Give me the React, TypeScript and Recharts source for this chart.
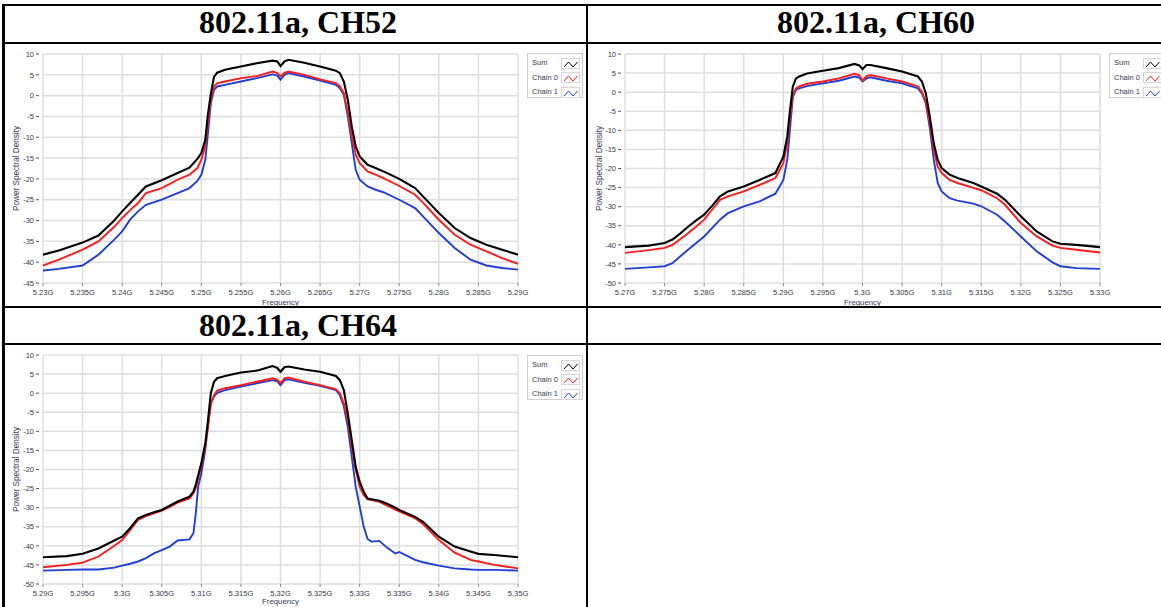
import React from 'react';
import { LineChart, Line, XAxis, YAxis, CartesianGrid } from 'recharts';

// ---------- CH52 ----------
const ch52Freq = [5230, 5232, 5235, 5237, 5239, 5240, 5241, 5242, 5243, 5245, 5247, 5248.5, 5249.5, 5250, 5250.5, 5250.8, 5251.2, 5251.6, 5252, 5253, 5255, 5257, 5259, 5259.6, 5260, 5260.5, 5261, 5263, 5265, 5267, 5267.5, 5268, 5268.5, 5269, 5269.5, 5270, 5271, 5272, 5273, 5275, 5277, 5278, 5280, 5282, 5284, 5286, 5288, 5290];
const ch52Sum = [-38.2, -37.2, -35.3, -33.6, -30, -27.8, -25.8, -23.8, -21.8, -20.3, -18.6, -17.3, -15.2, -13.8, -10.6, -5, 0.5, 4.5, 5.5, 6.2, 7, 7.8, 8.4, 8.2, 7.1, 8.2, 8.6, 7.9, 7, 6, 5.4, 3.4, -1, -7.4, -12.2, -14.6, -16.6, -17.4, -18.2, -20, -22.2, -24.2, -28.2, -31.8, -34.2, -35.8, -37, -38.2];
const ch52Chain0 = [-40.8, -39.4, -37, -35, -31.5, -29.4, -27.5, -25.8, -23.4, -22.2, -20.2, -19, -17.4, -15.4, -12.2, -7.4, -1, 2.2, 3, 3.4, 4.2, 4.7, 5.8, 5.4, 4.6, 5.5, 5.8, 5, 3.9, 3, 2.2, 0.6, -4.2, -9.8, -14.2, -16.2, -18.2, -19, -19.8, -21.7, -23.8, -25.7, -29.8, -33.4, -35.8, -37.4, -39, -40.4];
const ch52Chain1 = [-42, -41.6, -40.8, -38.2, -34.6, -32.6, -29.8, -27.8, -26.2, -25, -23.4, -22.2, -20.5, -19, -15.4, -9.8, -1.8, 1.4, 2.2, 2.6, 3.4, 4.2, 5.1, 4.8, 3.8, 5, 5.4, 4.6, 3.6, 2.6, 1.8, 0.2, -5, -11.4, -17.8, -20.2, -21.8, -22.6, -23.2, -25, -27, -29, -33, -36.6, -39.4, -40.8, -41.4, -41.8];
const ch52XTicks = [5230, 5235, 5240, 5245, 5250, 5255, 5260, 5265, 5270, 5275, 5280, 5285, 5290];
const ch52YTicks = [10, 5, 0, -5, -10, -15, -20, -25, -30, -35, -40, -45];

// ---------- CH60 ----------
const ch60Freq = [5270, 5273, 5275, 5276, 5277, 5278, 5279, 5280, 5281, 5282, 5283, 5285, 5287, 5289, 5290, 5290.5, 5290.8, 5291.2, 5291.6, 5292, 5293, 5295, 5297, 5299, 5299.6, 5300, 5300.5, 5301, 5303, 5305, 5307, 5307.5, 5308, 5308.5, 5309, 5309.5, 5310, 5311, 5312, 5314, 5315, 5317, 5318, 5320, 5322, 5324, 5325, 5327, 5330];
const ch60Sum = [-40.6, -40.2, -39.5, -38.6, -37, -35.2, -33.6, -32.1, -29.8, -27.3, -26, -24.7, -23, -21.2, -16.9, -11.6, -5.5, 1.5, 3.6, 4.1, 4.9, 5.6, 6.3, 7.4, 7, 6, 7.1, 7.1, 6.3, 5.4, 4.1, 2.8, -0.3, -6.4, -13.4, -17.7, -19.9, -21.6, -22.5, -23.8, -24.7, -26.6, -28.2, -32.5, -36.5, -39.1, -39.7, -40, -40.6];
const ch60Chain0 = [-42.1, -41.4, -40.8, -40, -38.5, -36.9, -35.2, -33.4, -30.8, -28.2, -27.3, -26, -24.3, -22.5, -18.6, -13.4, -7.3, -0.7, 1, 1.5, 2.2, 2.8, 3.6, 4.8, 4.4, 3, 4.2, 4.5, 3.6, 2.8, 1.5, 0.1, -2.5, -8.1, -15.1, -19.5, -21.2, -23, -23.8, -25.1, -25.7, -27.8, -29.5, -34.3, -37.8, -40.2, -40.8, -41.3, -42];
const ch60Chain1 = [-46.3, -45.9, -45.6, -44.8, -43, -41.2, -39.5, -37.8, -35.6, -33.4, -31.7, -29.9, -28.6, -26.6, -23, -17.7, -10.7, -1.2, 0.6, 1, 1.6, 2.3, 3, 4.1, 3.8, 2.8, 3.6, 3.9, 3, 2.3, 1, -0.3, -2.9, -9.4, -17.7, -23.8, -26, -27.8, -28.4, -29.2, -29.9, -32.1, -33.9, -37.8, -41.7, -44.6, -45.6, -46.1, -46.3];
const ch60XTicks = [5270, 5275, 5280, 5285, 5290, 5295, 5300, 5305, 5310, 5315, 5320, 5325, 5330];
const ch60YTicks = [10, 5, 0, -5, -10, -15, -20, -25, -30, -35, -40, -45, -50];

// ---------- CH64 ----------
const ch64Freq = [5290, 5293, 5295, 5297, 5299, 5300, 5301, 5302, 5303, 5304, 5305, 5306, 5307, 5308.5, 5309, 5309.3, 5309.6, 5310, 5310.5, 5310.8, 5311.2, 5311.6, 5312, 5313, 5315, 5317, 5319, 5319.6, 5320, 5320.5, 5321, 5323, 5325, 5327, 5327.5, 5328, 5328.5, 5329, 5329.5, 5330, 5330.5, 5331, 5331.5, 5332.5, 5333.4, 5334.5, 5335, 5337, 5338, 5340, 5342, 5344, 5345, 5347, 5350];
const ch64Sum = [-43, -42.7, -42.1, -40.7, -38.6, -37.6, -35.4, -32.8, -31.9, -31.2, -30.6, -29.5, -28.4, -27.1, -25.8, -24, -21.5, -18.4, -13.1, -7.9, 0, 3, 3.9, 4.5, 5.4, 5.9, 7.1, 6.6, 5.6, 6.8, 7, 6.2, 5.6, 4.5, 3.4, 0.8, -5.3, -12.3, -19.3, -23.2, -25.8, -27.6, -27.8, -28.2, -28.9, -30, -30.6, -32.4, -33.7, -37.6, -40.2, -41.5, -42.1, -42.4, -43];
const ch64Chain0 = [-45.6, -45, -44.4, -42.8, -40, -38.5, -35.9, -33.2, -32.2, -31.5, -30.8, -29.8, -28.7, -27.6, -26.2, -24.8, -22.3, -19.3, -14, -9.7, -2.7, -0.5, 0.7, 1.3, 2.1, 3, 3.9, 3.5, 2.6, 3.9, 4.1, 3, 2.1, 1, 0, -2.7, -7, -14, -20.1, -24.5, -26.7, -27.8, -28, -28.5, -29.4, -30.5, -31, -32.8, -34.3, -38.5, -41.8, -43.7, -44.1, -45, -45.9];
const ch64Chain1 = [-46.5, -46.3, -46.2, -46.2, -45.7, -45.2, -44.7, -44.1, -43.2, -42, -41.1, -40.2, -38.6, -38.3, -36.7, -31.5, -24.5, -21, -14.9, -8.8, -2.7, -0.9, 0.1, 0.8, 1.7, 2.6, 3.4, 3.1, 2.1, 3.4, 3.6, 2.7, 1.9, 0.8, -0.5, -3.5, -8.8, -16.6, -24.5, -29.7, -34.9, -38.2, -38.9, -38.7, -40.4, -42, -41.6, -43.7, -44.3, -45.2, -45.9, -46.2, -46.3, -46.3, -46.5];
const ch64XTicks = [5290, 5295, 5300, 5305, 5310, 5315, 5320, 5325, 5330, 5335, 5340, 5345, 5350];
const ch64YTicks = [10, 5, 0, -5, -10, -15, -20, -25, -30, -35, -40, -45, -50];

const seriesNames = ['Sum', 'Chain 0', 'Chain 1'];
const seriesColors = ['#000000', '#ff1a1a', '#1f3fd8'];
const titles = ['802.11a, CH52', '802.11a, CH60', '802.11a, CH64'];

const SANS = '"Liberation Sans", Arial, sans-serif';
const SERIF = '"Liberation Serif", "Times New Roman", serif';

const fmtG = (v: number) => `${parseFloat((v / 1000).toFixed(3))}G`;

function buildRows(freq: number[], sum: number[], c0: number[], c1: number[]) {
  return freq.map((f, i) => ({ f, sum: sum[i], c0: c0[i], c1: c1[i] }));
}

const XTick = (props: any) => {
  const { x, y, payload } = props;
  return (
    <g>
      <line x1={x} y1={y} x2={x} y2={y + 3} stroke="#8a8a8a" strokeWidth={1} />
      <text x={x} y={y + 12} textAnchor="middle" fontSize={7.5} fill="#3a3a4a" fontFamily={SANS}>
        {fmtG(payload.value)}
      </text>
    </g>
  );
};

const YTick = (props: any) => {
  const { x, y, payload } = props;
  return (
    <g>
      <line x1={x - 7} y1={y} x2={x - 4} y2={y} stroke="#555" strokeWidth={1} />
      <text x={x - 9} y={y + 2.7} textAnchor="end" fontSize={7.5} fill="#3a3a4a" fontFamily={SANS}>
        {payload.value}
      </text>
    </g>
  );
};

type PanelProps = {
  left: number;
  top: number;
  width: number;
  height: number;
  yAxisWidth: number;
  marginRight: number;
  xAxisHeight: number;
  xLabelOffset: number;
  freq: number[];
  sum: number[];
  c0: number[];
  c1: number[];
  xTicks: number[];
  yTicks: number[];
};

function Panel(p: PanelProps) {
  const rows = buildRows(p.freq, p.sum, p.c0, p.c1);
  const yMin = p.yTicks[p.yTicks.length - 1];
  const yMax = p.yTicks[0];
  return (
    <div style={{ position: 'absolute', left: p.left, top: p.top }}>
      <LineChart
        width={p.width}
        height={p.height}
        data={rows}
        margin={{ top: 9, right: p.marginRight, bottom: 0, left: 0 }}
      >
        <CartesianGrid stroke="#dedede" strokeWidth={1.5} />
        <XAxis
          dataKey="f"
          type="number"
          domain={[p.xTicks[0], p.xTicks[p.xTicks.length - 1]]}
          ticks={p.xTicks}
          interval={0}
          height={p.xAxisHeight}
          axisLine={false}
          tickLine={false}
          tickSize={0}
          tickMargin={0}
          tick={<XTick />}
          allowDataOverflow
          label={{
            content: (lp: any) => {
              const vb = lp.viewBox;
              return (
                <text
                  x={vb.x + vb.width / 2}
                  y={vb.y + p.xLabelOffset}
                  textAnchor="middle"
                  fontSize={7.8}
                  fill="#3a3a55"
                  fontFamily={SANS}
                >
                  Frequency
                </text>
              );
            },
          }}
        />
        <YAxis
          type="number"
          domain={[yMin, yMax]}
          ticks={p.yTicks}
          interval={0}
          width={p.yAxisWidth}
          axisLine={false}
          tickLine={false}
          tickSize={0}
          tickMargin={0}
          tick={<YTick />}
          allowDataOverflow
          label={{
            content: (lp: any) => {
              const vb = lp.viewBox;
              const cx = vb.x + 11;
              const cy = vb.y + vb.height / 2;
              return (
                <text
                  x={cx}
                  y={cy}
                  transform={`rotate(-90, ${cx}, ${cy})`}
                  textAnchor="middle"
                  dominantBaseline="central"
                  fontSize={8.2}
                  fill="#3a3a60"
                  fontFamily={SANS}
                >
                  Power Spectral Density
                </text>
              );
            },
          }}
        />
        <Line type="linear" dataKey="c1" name={seriesNames[2]} stroke={seriesColors[2]} strokeWidth={1.9} dot={false} isAnimationActive={false} />
        <Line type="linear" dataKey="c0" name={seriesNames[1]} stroke={seriesColors[1]} strokeWidth={1.9} dot={false} isAnimationActive={false} />
        <Line type="linear" dataKey="sum" name={seriesNames[0]} stroke={seriesColors[0]} strokeWidth={2.1} dot={false} isAnimationActive={false} />
      </LineChart>
    </div>
  );
}

function LegendBox({ left, top }: { left: number; top: number }) {
  return (
    <div
      style={{
        position: 'absolute',
        left,
        top,
        width: 56,
        height: 45,
        border: '1px solid #cfcfcf',
        background: '#fff',
        boxSizing: 'border-box',
      }}
    >
      {seriesNames.map((name, i) => (
        <div key={name} style={{ position: 'absolute', left: 0, top: 3 + i * 14.5, width: 56, height: 12 }}>
          <span
            style={{
              position: 'absolute',
              left: 4,
              top: 0,
              fontSize: 7.5,
              lineHeight: '12px',
              color: '#3a3a4a',
              fontFamily: SANS,
              whiteSpace: 'nowrap',
            }}
          >
            {name}
          </span>
          <svg
            width={19}
            height={11}
            style={{ position: 'absolute', left: 33, top: 0.5, border: '1px solid #d6d6d6', boxSizing: 'border-box', background: '#fff' }}
          >
            <polyline points="2,8 6.5,3 11,8 15.5,3" fill="none" stroke={seriesColors[i]} strokeWidth={1} />
          </svg>
        </div>
      ))}
    </div>
  );
}

const HLine = ({ top, left = 2, width = 1161 }: { top: number; left?: number; width?: number }) => (
  <div style={{ position: 'absolute', left, top, width, height: 2, background: '#000' }} />
);
const VLine = ({ left, top = 4, height = 603 }: { left: number; top?: number; height?: number }) => (
  <div style={{ position: 'absolute', left, top, width: 2.5, height, background: '#000' }} />
);

const Title = ({ text, cx, baseline }: { text: string; cx: number; baseline: number }) => (
  <div
    style={{
      position: 'absolute',
      left: cx - 200,
      top: baseline - 29,
      width: 400,
      textAlign: 'center',
      fontFamily: SERIF,
      fontWeight: 'bold',
      fontSize: 32,
      lineHeight: '36px',
      color: '#000',
      whiteSpace: 'nowrap',
    }}
  >
    {text}
  </div>
);

export default function App() {
  return (
    <div
      style={{
        position: 'absolute',
        left: 0,
        top: 0,
        width: 1161,
        height: 607,
        overflow: 'hidden',
        background: '#fff',
      }}
    >
      <Panel
        left={5}
        top={45}
        width={581}
        height={262}
        yAxisWidth={38}
        marginRight={68}
        xAxisHeight={24}
        xLabelOffset={22}
        freq={ch52Freq}
        sum={ch52Sum}
        c0={ch52Chain0}
        c1={ch52Chain1}
        xTicks={ch52XTicks}
        yTicks={ch52YTicks}
      />
      <LegendBox left={527} top={53} />

      <Panel
        left={588}
        top={45}
        width={573}
        height={262}
        yAxisWidth={37}
        marginRight={61}
        xAxisHeight={24}
        xLabelOffset={22}
        freq={ch60Freq}
        sum={ch60Sum}
        c0={ch60Chain0}
        c1={ch60Chain1}
        xTicks={ch60XTicks}
        yTicks={ch60YTicks}
      />
      <LegendBox left={1109} top={53} />

      <Panel
        left={5}
        top={346}
        width={581}
        height={261}
        yAxisWidth={38}
        marginRight={68}
        xAxisHeight={23}
        xLabelOffset={19.5}
        freq={ch64Freq}
        sum={ch64Sum}
        c0={ch64Chain0}
        c1={ch64Chain1}
        xTicks={ch64XTicks}
        yTicks={ch64YTicks}
      />
      <LegendBox left={527} top={355} />

      <Title text={titles[0]} cx={298} baseline={33} />
      <Title text={titles[1]} cx={876} baseline={33} />
      <Title text={titles[2]} cx={298} baseline={336} />

      <HLine top={4} />
      <HLine top={42} />
      <HLine top={306} />
      <HLine top={343} />
      <VLine left={2} />
      <VLine left={585.5} />
    </div>
  );
}
